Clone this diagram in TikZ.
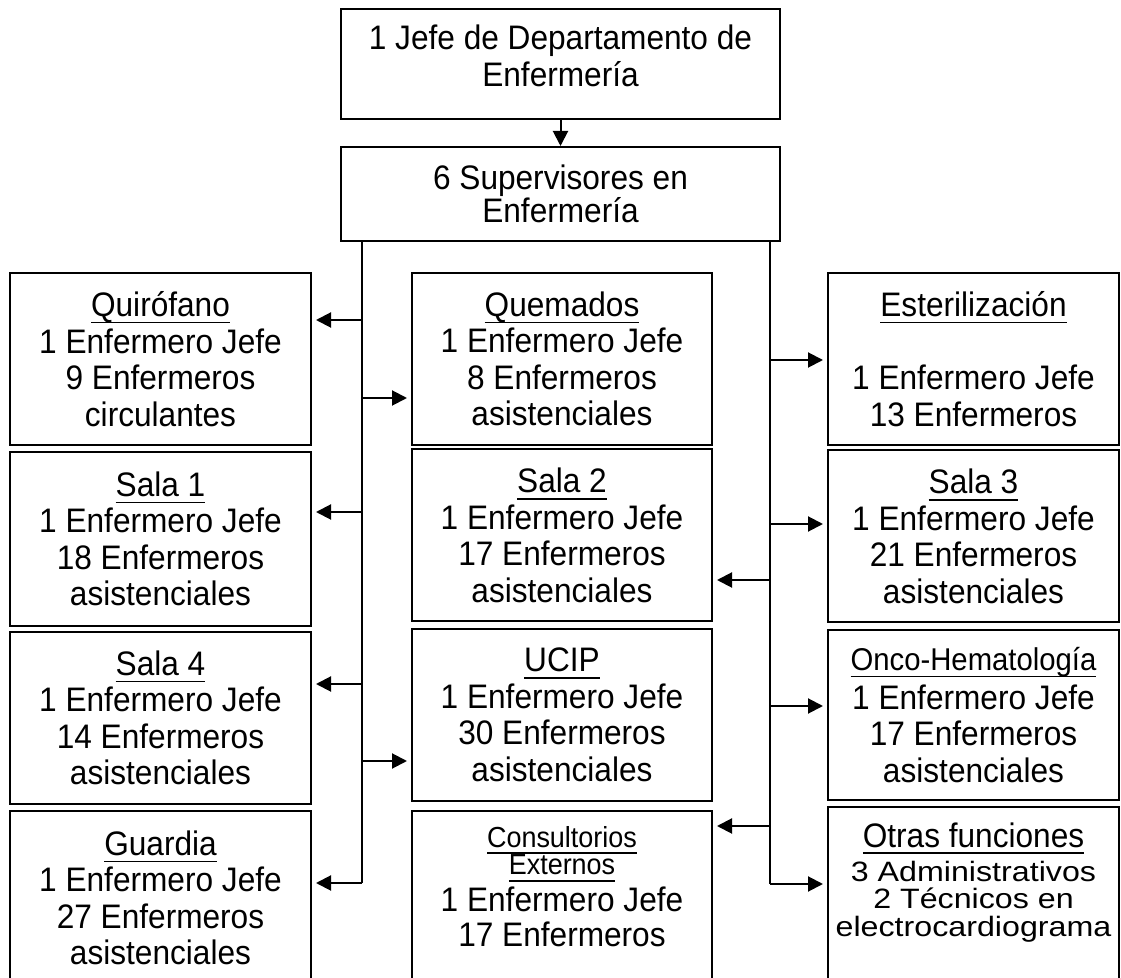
\documentclass[tikz,border=0pt]{standalone}
\usepackage{fontspec}
\setmainfont{Liberation Sans}[FakeStretch=0.93]
\newfontfamily\ancha{Liberation Sans}[FakeStretch=1.15]
\usetikzlibrary{arrows.meta, positioning}

\newcommand{\titulo}[1]{\setbox0\hbox{#1}\rlap{\rule[-3.4pt]{\wd0}{0.8pt}}\box0}
\newcommand{\arriba}[1]{\rule{0pt}{#1}}
\newcommand{\abajo}[1]{\rule[-#1]{0pt}{#1}}

\tikzset{
    caja/.style={draw, line width=1pt, align=center, inner sep=0pt,
        minimum height=86pt, font=\fontsize{17pt}{18.25pt}\selectfont},
    izq/.style={caja, minimum width=150.5pt},
    centro/.style={caja, minimum width=150pt},
    der/.style={caja, minimum width=145.5pt},
    linea/.style={line width=1pt},
    flecha/.style={line width=1pt, -{Triangle[length=7.5pt, width=7.5pt]}},
    rama/.style={flecha, shorten >=2pt}
}

\begin{document}
\begin{tikzpicture}[x=0.5pt, y=-0.5pt]
        \useasboundingbox (0,0) rectangle (1121,978);

        \node[caja, minimum width=219.5pt, minimum height=55pt] (jefe) at (560.5,64) {\arriba{20.5pt}1 Jefe de Departamento de\\[0.25pt]Enfermería\abajo{16pt}};
        \node[caja, minimum width=219.5pt, minimum height=47pt] (sup) at (560.5,194) {\arriba{21.5pt}6 Supervisores en\\[-1.75pt]Enfermería\abajo{9pt}};

        \node[izq] (quirofano) at (160.5,359) {\titulo{Quirófano}\\1 Enfermero Jefe\\9 Enfermeros\\circulantes};
        \node[izq, minimum height=87pt] (sala1) at (160.5,539) {\titulo{Sala 1}\\1 Enfermero Jefe\\18 Enfermeros\\asistenciales};
        \node[izq] (sala4) at (160.5,718) {\titulo{Sala 4}\\1 Enfermero Jefe\\14 Enfermeros\\asistenciales};
        \node[izq, minimum height=87pt] (guardia) at (160.5,898) {\titulo{Guardia}\\1 Enfermero Jefe\\27 Enfermeros\\asistenciales};

        \node[centro] (quemados) at (562,359) {\titulo{Quemados}\\1 Enfermero Jefe\\8 Enfermeros\\asistenciales};
        \node[centro] (sala2) at (562,535.5) {\titulo{Sala 2}\\1 Enfermero Jefe\\17 Enfermeros\\asistenciales};
        \node[centro] (ucip) at (562,715) {\titulo{UCIP}\\1 Enfermero Jefe\\30 Enfermeros\\asistenciales};
        \node[centro, minimum height=87pt] (consult) at (562,898) {\arriba{18pt}{\fontsize{14.5pt}{14pt}\selectfont\titulo{Consultorios}}\\[-4.25pt]{\fontsize{14.5pt}{14pt}\selectfont\titulo{Externos}}\\[0.25pt]1 Enfermero Jefe\\[-0.75pt]17 Enfermeros\abajo{19pt}};

        \node[der] (esteril) at (973.5,359) {\titulo{Esterilización}\\[18.25pt]1 Enfermero Jefe\\13 Enfermeros};
        \node[der] (sala3) at (973.5,536.5) {\titulo{Sala 3}\\1 Enfermero Jefe\\21 Enfermeros\\asistenciales};
        \node[der, minimum height=85pt] (onco) at (973.5,715) {{\fontsize{15.75pt}{17.75pt}\selectfont\titulo{Onco-Hematología}}\\[1.25pt]1 Enfermero Jefe\\17 Enfermeros\\asistenciales};
        \node[der, minimum height=90pt] (otras) at (973.5,897) {\arriba{20pt}\titulo{Otras funciones}\\[-1.25pt]{\ancha\fontsize{14pt}{14pt}\selectfont 3 Administrativos}\\[-4.75pt]{\ancha\fontsize{14pt}{14pt}\selectfont 2 Técnicos en}\\[-3.75pt]{\ancha\fontsize{14pt}{14pt}\selectfont electrocardiograma}\abajo{25pt}};

        % troncos
        \coordinate (tI) at (362,883);
        \coordinate (tD) at (770,884);
        \draw[flecha] (jefe) -- (sup);
        \draw[linea] (sup.south -| tI) -- (tI);
        \draw[linea] (sup.south -| tD) -- (tD);

        % ramas izquierda
        \coordinate (i1) at (362,320);
        \coordinate (i2) at (362,398);
        \coordinate (i3) at (362,512);
        \coordinate (i4) at (362,684);
        \coordinate (i5) at (362,761);
        \draw[rama] (i1) -- (i1 -| quirofano.east);
        \draw[rama] (i2) -- (i2 -| quemados.west);
        \draw[rama] (i3) -- (i3 -| sala1.east);
        \draw[rama] (i4) -- (i4 -| sala4.east);
        \draw[rama] (i5) -- (i5 -| ucip.west);
        \draw[rama] (tI) -- (tI -| guardia.east);

        % ramas derecha
        \coordinate (d1) at (770,360);
        \coordinate (d2) at (770,524);
        \coordinate (d3) at (770,580);
        \coordinate (d4) at (770,706);
        \coordinate (d5) at (770,826);
        \draw[rama] (d1) -- (d1 -| esteril.west);
        \draw[rama] (d2) -- (d2 -| sala3.west);
        \draw[rama] (d3) -- (d3 -| sala2.east);
        \draw[rama] (d4) -- (d4 -| onco.west);
        \draw[rama] (d5) -- (d5 -| consult.east);
        \draw[rama] (tD) -- (tD -| otras.west);
    \end{tikzpicture}
\end{document}
